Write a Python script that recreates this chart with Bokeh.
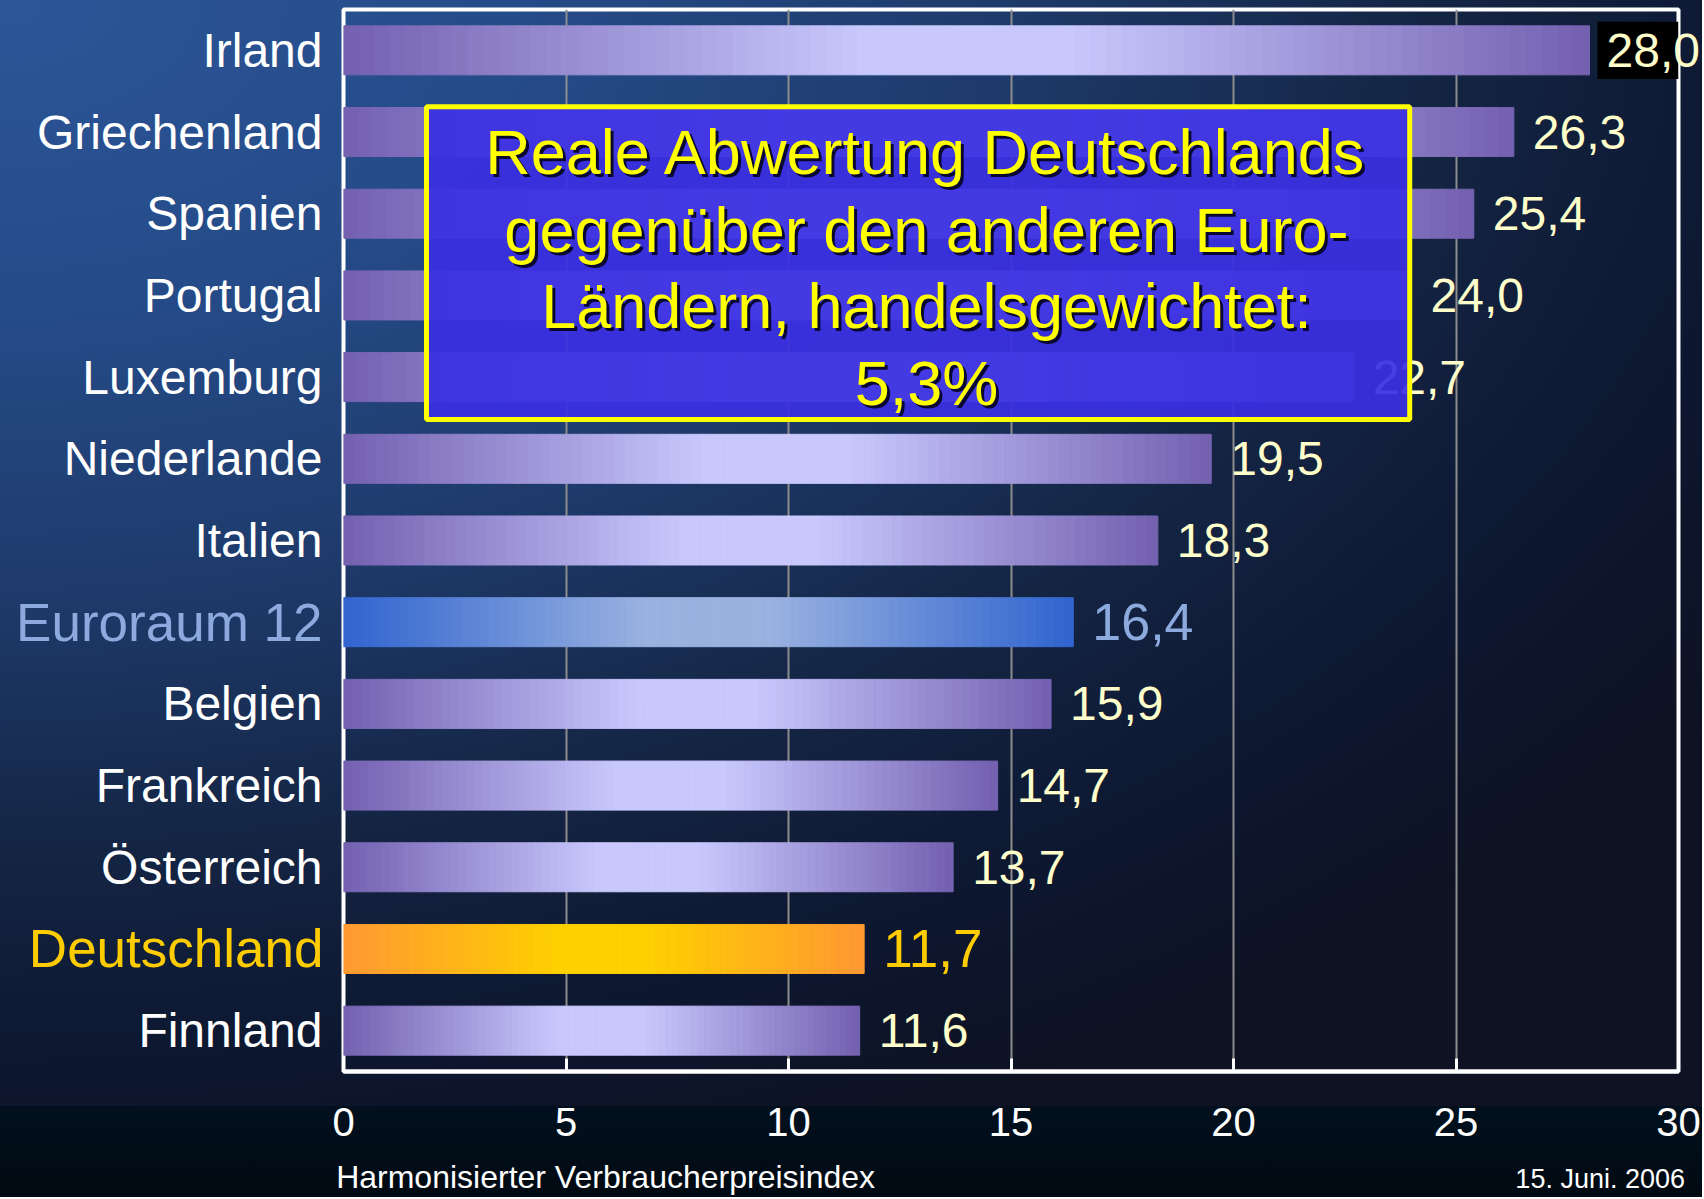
import numpy as np
from bokeh.plotting import figure
from bokeh.models import (FactorRange, Range1d, ColumnDataSource, LabelSet, Label,
                          BoxAnnotation, FixedTicker, CategoricalAxis, LinearAxis,
                          CustomJSTickFormatter)
from bokeh.core.properties import value
from bokeh.embed import file_html
from bokeh.resources import INLINE

# ---------------- data ----------------
countries = ["Irland", "Griechenland", "Spanien", "Portugal", "Luxemburg",
             "Niederlande", "Italien", "Euroraum 12", "Belgien", "Frankreich",
             "Österreich", "Deutschland", "Finnland"]
values = [28.0, 26.3, 25.4, 24.0, 22.7, 19.5, 18.3, 16.4, 15.9, 14.7, 13.7, 11.7, 11.6]
x_ticks = [0, 5, 10, 15, 20, 25, 30]
euro_area = "Euroraum 12"
germany = "Deutschland"
box_lines = ["Reale Abwertung Deutschlands",
             "gegenüber den anderen Euro-",
             "Ländern, handelsgewichtet:",
             "5,3%"]
x_title = "Harmonisierter Verbraucherpreisindex"
date_text = "15. Juni. 2006"

FONT = "Liberation Sans"
WHITE_LBL = "#ffffcc"
EU_COL = "#8caade"
DE_COL = "#ffcc00"

def fmt(v):
    return f"{v:.1f}".replace(".", ",")

def hex2rgb(h):
    h = h.lstrip("#")
    return [int(h[i:i + 2], 16) for i in (0, 2, 4)]

def mix(c1, c2, t):
    a, b = hex2rgb(c1), hex2rgb(c2)
    return "#%02x%02x%02x" % tuple(int(round(a[i] + (b[i] - a[i]) * t)) for i in range(3))

def bar_palette(c):
    if c == euro_area:
        return "#3064cf", "#9ab2e0"
    if c == germany:
        return "#ff9833", "#ffd000"
    return "#7360b0", "#c8c8fd"

# gradient slices for each bar, derived from the values
N = 80
ys, lefts, rights, cols = [], [], [], []
for c, v in zip(countries, values):
    edge, mid = bar_palette(c)
    for i in range(N):
        u = (i + 0.5) / N
        t = min(1.0, (1 - abs(2 * u - 1)) * 1.2)
        ys.append(c)
        lefts.append(v * i / N)
        rights.append(v * (i + 1) / N)
        cols.append(mix(edge, mid, t))
bars = ColumnDataSource(dict(y=ys, left=lefts, right=rights, color=cols))

p = figure(width=1702, height=1197,
           y_range=FactorRange(*countries[::-1]), x_range=Range1d(x_ticks[0], x_ticks[-1]),
           output_backend="svg", toolbar_location=None,
           min_border_left=343, min_border_right=24, min_border_top=9, min_border_bottom=125,
           background_fill_color=None, border_fill_color=None,
           outline_line_color="white", outline_line_width=4)
p.styles = {"background": "linear-gradient(to bottom, rgba(0,0,0,0) 0px, rgba(0,0,0,0) 1106px, #02101e 1106px, #010a12 100%), "
                          "radial-gradient(ellipse 2100px 1250px at 0px 0px, #2c5698 0%, #254b88 25%, #1e3a6a 48%, #142544 68%, #0d1730 85%, #0e1222 100%)"}

p.hbar(y="y", left="left", right="right", height=0.6, source=bars,
       fill_color="color", line_color="color", line_width=1)

# black backing of the top value label
p.hbar(y=[countries[0]], left=[values[0] + 0.18], right=[x_ticks[-1] + 1], height=0.7,
       fill_color="black", line_color=None)

def plain(ax, size, color, standoff):
    ax.axis_line_color = None
    ax.major_tick_line_color = None
    ax.minor_tick_line_color = None
    ax.major_tick_out = 0
    ax.minor_tick_out = 0
    ax.major_tick_in = 0
    ax.major_label_text_font = FONT
    ax.major_label_text_font_size = size
    ax.major_label_text_color = color
    ax.major_label_standoff = standoff

# x axis
xa = p.xaxis[0]
xa.ticker = FixedTicker(ticks=x_ticks)
xa.major_label_text_font = FONT
xa.major_label_text_font_size = "40px"
xa.major_label_text_color = "white"
xa.major_label_standoff = 36
xa.axis_line_color = "white"
xa.axis_line_width = 4
xa.major_tick_in = 13
xa.major_tick_out = 0
xa.minor_tick_out = 0
xa.major_tick_line_color = "white"
xa.major_tick_line_width = 3
xa.minor_tick_line_color = None

# y axis (regular countries), highlighted ones on their own axes
hidden = [euro_area, germany]
ya = p.yaxis[0]
ya.formatter = CustomJSTickFormatter(args=dict(hide=hidden),
                                     code="return hide.includes(tick) ? '' : tick")
plain(ya, "48px", "white", 21)

def special_axis(name, color, standoff):
    ax = CategoricalAxis(formatter=CustomJSTickFormatter(args=dict(show=name),
                                                         code="return tick == show ? tick : ''"))
    plain(ax, "53px", color, standoff)
    p.add_layout(ax, "left")

special_axis(euro_area, EU_COL, -289)
special_axis(germany, DE_COL, -310)

p.ygrid.grid_line_color = None
p.xgrid.ticker = FixedTicker(ticks=x_ticks)
p.xgrid.grid_line_color = "#8c8c8c"
p.xgrid.grid_line_width = 2

# value labels (all but the top one, which overflows the frame)
vcol, vsize = [], []
for c in countries:
    if c == euro_area:
        vcol.append(EU_COL); vsize.append("52px")
    elif c == germany:
        vcol.append(DE_COL); vsize.append("53px")
    else:
        vcol.append(WHITE_LBL); vsize.append("48px")
vals = ColumnDataSource(dict(y=countries[1:], x=values[1:], text=[fmt(v) for v in values[1:]],
                             color=vcol[1:], size=vsize[1:]))
p.add_layout(LabelSet(x="x", y="y", text="text", source=vals, x_offset=19,
                      text_align="left", text_baseline="middle", text_color="color",
                      text_font=value(FONT), text_font_size="size"))

top_ax = CategoricalAxis(formatter=CustomJSTickFormatter(args=dict(lab={countries[0]: fmt(values[0])}),
                                                         code="return lab[tick] || ''"))
plain(top_ax, "48px", WHITE_LBL, -72)
p.add_layout(top_ax, "right")

# info box
p.add_layout(BoxAnnotation(left=1.865, right=23.96, bottom=7.98, top=11.81,
                           fill_color="#3a2fe2", fill_alpha=0.93,
                           line_color="#ffff00", line_alpha=1.0, line_width=5))
line_y = [11.25, 10.30, 9.37, 8.43]
for txt, yy in zip(box_lines, line_y):
    p.add_layout(Label(x=13.1, y=yy, text=txt, x_offset=3, y_offset=-3,
                       text_align="center", text_baseline="middle",
                       text_font=FONT, text_font_size="63px", text_color="#0a0830"))
    p.add_layout(Label(x=13.1, y=yy, text=txt,
                       text_align="center", text_baseline="middle",
                       text_font=FONT, text_font_size="63px", text_color="#ffff00"))

# footer texts as label-only axes stacked below the main x axis
def footer_axis(text, at, size, standoff):
    ax = LinearAxis(ticker=FixedTicker(ticks=[at]),
                    formatter=CustomJSTickFormatter(args=dict(t=text), code="return t"))
    plain(ax, size, "white", standoff)
    p.add_layout(ax, "below")

footer_axis(x_title, 5.89, "32px", 20)
footer_axis(date_text, 28.24, "27px", -34)

open("out.html", "w").write(file_html(p, INLINE))
